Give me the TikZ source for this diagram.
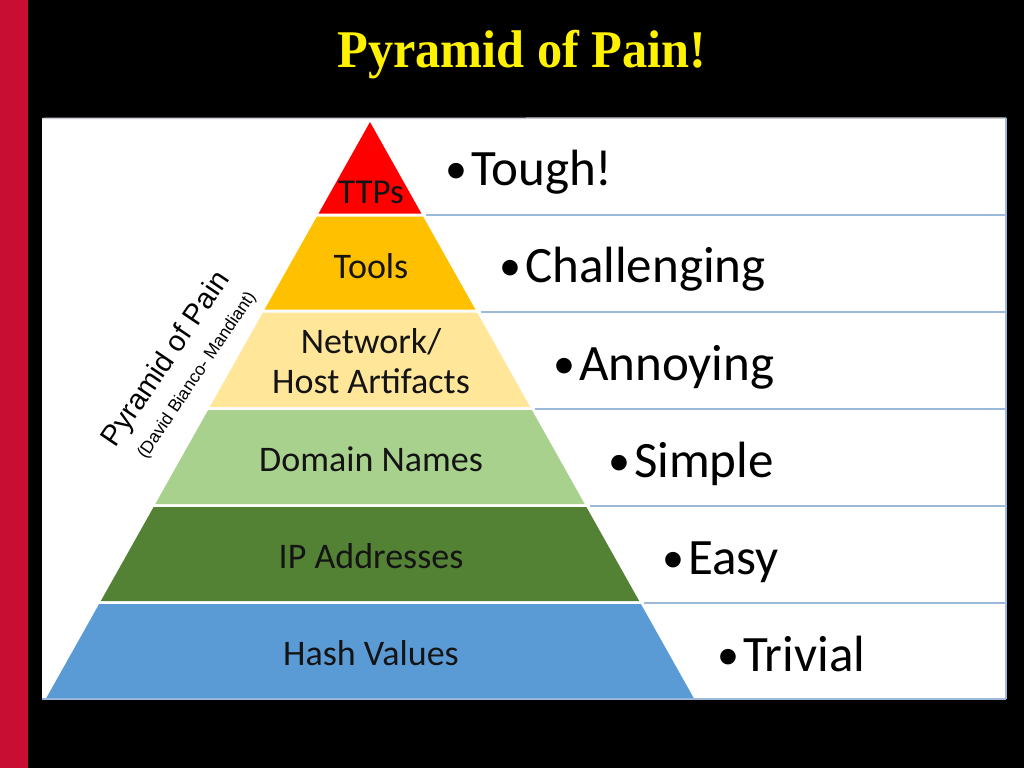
\documentclass[tikz,border=0pt]{standalone}
\usepackage{fontspec}
\setmainfont{Carlito}
\newfontfamily\titlefont{Liberation Serif}[FakeStretch=0.95]
\newfontfamily\creditfont{Liberation Sans}
\usetikzlibrary{positioning}

\definecolor{slidered}{RGB}{200,14,50}
\definecolor{ttpred}{RGB}{255,0,0}
\definecolor{toolorange}{RGB}{255,192,0}
\definecolor{artyellow}{RGB}{255,230,153}
\definecolor{domgreen}{RGB}{169,209,142}
\definecolor{ipgreen}{RGB}{84,130,53}
\definecolor{hashblue}{RGB}{91,155,213}
\definecolor{ruleblue}{RGB}{157,185,217}
\definecolor{edgegray}{RGB}{200,204,210}

\newcommand{\rankdot}{\raisebox{2pt}{\fontsize{44}{44}\selectfont •}\kern4pt}

\tikzset{
	layertext/.style={text=black!92, font=\fontsize{36}{40}\selectfont, anchor=base, inner sep=0pt},
	ranktext/.style={text=black, font=\fontsize{51}{55}\selectfont, anchor=base west, inner sep=0pt},
	credit/.style={text=black, anchor=base, inner sep=0pt, rotate=56},
	tablerule/.style={draw=ruleblue, line width=2pt},
}

\begin{document}
\begin{tikzpicture}[x=1pt, y=-1pt]
	\useasboundingbox (0,0) rectangle (1024,768);
	\fill[black] (0,0) rectangle (1024,768);
	\fill[slidered] (0,0) rectangle (28,768);

	\node[text=yellow, font=\titlefont\bfseries\fontsize{53}{56}\selectfont, anchor=base] (title) at (522,67) {Pyramid of Pain!};

	% white panel
	\fill[white] (42,118) rectangle (1006,700);
	\coordinate (pr) at (1006,118);
	\coordinate (pb) at (42,699);
	\draw[edgegray, line width=1.5pt] (42,118.5) -- (pr);
	\draw[tablerule] (pr) -- (pr |- pb);
	\draw[tablerule] (pb) -- (pb -| pr);

	% pyramid layers
	\fill[ttpred] (370,122) -- (421.4,213.5) -- (318.6,213.5) -- cycle;
	\fill[toolorange] (316.9,216.5) -- (423.1,216.5) -- (475.4,309.5) -- (264.6,309.5) -- cycle;
	\fill[artyellow] (262.9,312.5) -- (477.1,312.5) -- (530.2,407) -- (209.8,407) -- cycle;
	\fill[domgreen] (208.1,410) -- (531.9,410) -- (584.7,504) -- (155.3,504) -- cycle;
	\fill[ipgreen] (153.6,507) -- (586.4,507) -- (639.2,601) -- (100.8,601) -- cycle;
	\fill[hashblue] (99.1,604) -- (640.9,604) -- (693.7,698) -- (46.3,698) -- cycle;

	% rules of the table
	\coordinate (r1) at (426,215);
	\coordinate (r2) at (481,312);
	\coordinate (r3) at (535,409);
	\coordinate (r4) at (590,506);
	\coordinate (r5) at (644,603);
	\draw[tablerule] (r1) -- (r1 -| pr);
	\draw[tablerule] (r2) -- (r2 -| pr);
	\draw[tablerule] (r3) -- (r3 -| pr);
	\draw[tablerule] (r4) -- (r4 -| pr);
	\draw[tablerule] (r5) -- (r5 -| pr);

	\node[layertext, font=\fontsize{35}{40}\selectfont] (ttps) at (371,203) {TTPs};
	\node[layertext] (tools) at (371,278) {Tools};
	\node[layertext] (netw) at (371,353) {Network/};
	\node[layertext] (host) at (371,393) {Host Artifacts};
	\node[layertext] (domain) at (371,471) {Domain Names};
	\node[layertext] (ipaddr) at (371,568) {IP Addresses};
	\node[layertext] (hash) at (371,665) {Hash Values};

	\node[ranktext] (tough) at (445,185) {\rankdot Tough!};
	\node[ranktext] (chall) at (499,282) {\rankdot Challenging};
	\node[ranktext] (annoy) at (553,380) {\rankdot Annoying};
	\node[ranktext] (simple) at (608,477) {\rankdot Simple};
	\node[ranktext] (easy) at (662,574) {\rankdot Easy};
	\node[ranktext] (trivial) at (717,671) {\rankdot Trivial};

	\node[credit, font=\creditfont\fontsize{29}{30}\selectfont] (popname) at (173,364) {Pyramid of Pain};
	\node[credit, font=\creditfont\fontsize{17.5}{20}\selectfont] (popauthor) at (201,378) {(David Bianco- Mandiant)};
\end{tikzpicture}
\end{document}
